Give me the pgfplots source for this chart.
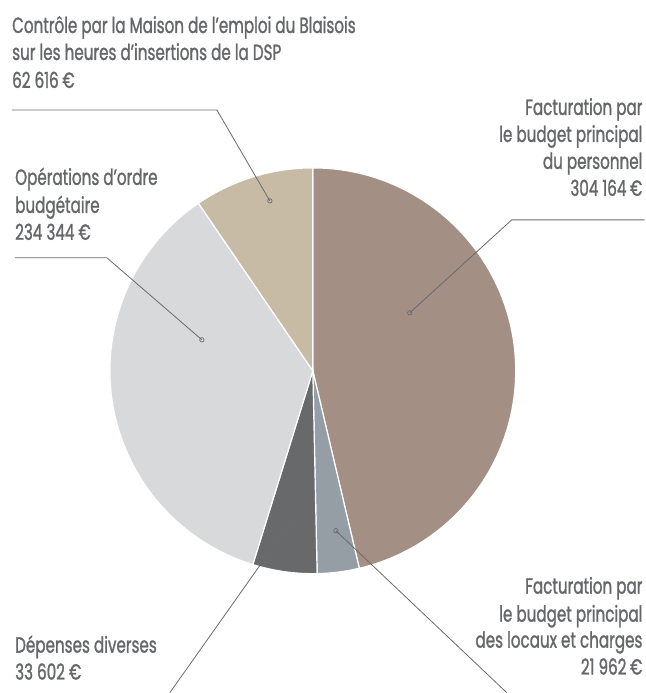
\documentclass[border=0pt]{standalone}
\usepackage{pgfplots}
\pgfplotsset{compat=1.18}
\usepackage{pgfplotstable}
\usepackage{fontspec}
\setmainfont{Poppins}[FakeStretch=0.69, FakeBold=1.2]
\definecolor{txt}{HTML}{66676A}
\definecolor{lead}{HTML}{6A6B6D}
\definecolor{cA}{HTML}{A38F84}
\definecolor{cB}{HTML}{959EA5}
\definecolor{cC}{HTML}{68696B}
\definecolor{cD}{HTML}{D8D9DB}
\definecolor{cE}{HTML}{C8BBA5}
\pgfplotstableread{
value
304164
21962
33602
234344
62616
}\pietable
\begin{document}
\begin{tikzpicture}
\pgfplotstablegetelem{0}{value}\of\pietable \edef\vA{\pgfplotsretval}
\pgfplotstablegetelem{1}{value}\of\pietable \edef\vB{\pgfplotsretval}
\pgfplotstablegetelem{2}{value}\of\pietable \edef\vC{\pgfplotsretval}
\pgfplotstablegetelem{3}{value}\of\pietable \edef\vD{\pgfplotsretval}
\pgfplotstablegetelem{4}{value}\of\pietable \edef\vE{\pgfplotsretval}
\edef\T{\fpeval{\vA+\vB+\vC+\vD+\vE}}
\edef\aA{\fpeval{90-360*\vA/\T}}
\edef\aB{\fpeval{\aA-360*\vB/\T}}
\edef\aC{\fpeval{\aB-360*\vC/\T}}
\edef\aD{\fpeval{\aC-360*\vD/\T}}
\edef\aE{\fpeval{\aD-360*\vE/\T}}
\begin{axis}[hide axis, scale only axis, width=645pt, height=693pt,
  xmin=0, xmax=645, ymin=0, ymax=693, clip=false]
\path (axis cs:0,0) rectangle (axis cs:645,693);
\fill[cA, draw=white, line width=1.2pt] (axis cs:313,322) -- ++(90:203pt) arc[start angle=90, end angle=\aA, radius=203pt] -- cycle;
\fill[cB, draw=white, line width=1.2pt] (axis cs:313,322) -- ++(\aA:203pt) arc[start angle=\aA, end angle=\aB, radius=203pt] -- cycle;
\fill[cC, draw=white, line width=1.2pt] (axis cs:313,322) -- ++(\aB:203pt) arc[start angle=\aB, end angle=\aC, radius=203pt] -- cycle;
\fill[cD, draw=white, line width=1.2pt] (axis cs:313,322) -- ++(\aC:203pt) arc[start angle=\aC, end angle=\aD, radius=203pt] -- cycle;
\fill[cE, draw=white, line width=1.2pt] (axis cs:313,322) -- ++(\aD:203pt) arc[start angle=\aD, end angle=\aE, radius=203pt] -- cycle;
% leader lines
\addplot[lead, line width=0.8pt, mark=none] coordinates {(12,583) (217,583) (270,492)};
\addplot[lead, line width=0.8pt, mark=none] coordinates {(645,473) (512,473) (410,380)};
\addplot[lead, line width=0.8pt, mark=none] coordinates {(15,435) (107,435) (202,353)};
\addplot[lead, line width=0.8pt, mark=none] coordinates {(291,171) (170,0)};
\addplot[lead, line width=0.8pt, mark=none] coordinates {(336,162) (507,0)};
\addplot[lead, only marks, mark=o, mark size=2.2pt, line width=0.7pt] coordinates {(270,492) (410,380) (202,353) (291,171) (336,162)};
% labels
\tikzset{lbl/.style={font=\fontsize{22}{26}\selectfont, text=txt, inner sep=0pt}}
\node[lbl, anchor=base west] at (axis cs:12,660) {Contrôle par la Maison de l’emploi du Blaisois};
\node[lbl, anchor=base west] at (axis cs:12,633) {sur les heures d’insertions de la DSP};
\node[lbl, anchor=base west] at (axis cs:12,605) {62 616\,€};
\node[lbl, anchor=base east] at (axis cs:643,578) {Facturation par};
\node[lbl, anchor=base east] at (axis cs:643,551) {le budget principal};
\node[lbl, anchor=base east] at (axis cs:643,524) {du personnel};
\node[lbl, anchor=base east] at (axis cs:643,497) {304 164\,€};
\node[lbl, anchor=base west] at (axis cs:15,508) {Opérations d’ordre};
\node[lbl, anchor=base west] at (axis cs:15,480) {budgétaire};
\node[lbl, anchor=base west] at (axis cs:15,453) {234 344 €};
\node[lbl, anchor=base west] at (axis cs:15,40) {Dépenses diverses};
\node[lbl, anchor=base west] at (axis cs:15,13) {33 602 €};
\node[lbl, anchor=base east] at (axis cs:643,99) {Facturation par};
\node[lbl, anchor=base east] at (axis cs:643,71) {le budget principal};
\node[lbl, anchor=base east] at (axis cs:643,45) {des locaux et charges};
\node[lbl, anchor=base east] at (axis cs:643,18) {21 962\,€};
\end{axis}
\end{tikzpicture}
\end{document}
